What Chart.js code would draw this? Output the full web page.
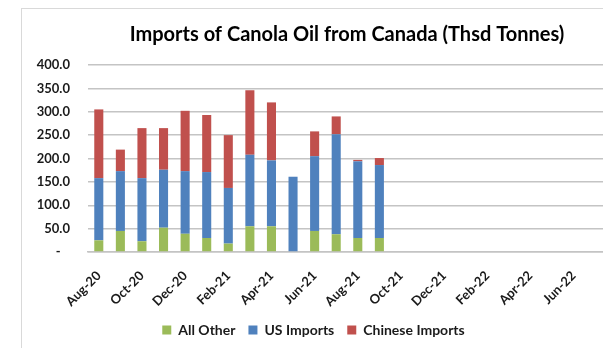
<!DOCTYPE html>
<html>
<head>
<meta charset="utf-8">
<script src="https://cdn.jsdelivr.net/npm/chart.js@4/dist/chart.umd.min.js"></script>
<style>
  html, body { margin: 0; padding: 0; background: #fff; overflow: hidden; }
  #frame { position: absolute; left: 21px; top: 8px; width: 700px; height: 400px; border: 1px solid #d9d9d9; }
  #wrap { position: absolute; left: 0; top: 0; width: 615px; height: 348px; }
</style>
</head>
<body>
<div id="frame"></div>
<div id="wrap"><canvas id="myChart" width="615" height="348"></canvas></div>
<script>
var months = ["Aug-20", "Sep-20", "Oct-20", "Nov-20", "Dec-20", "Jan-21", "Feb-21", "Mar-21",
              "Apr-21", "May-21", "Jun-21", "Jul-21", "Aug-21", "Sep-21", "Oct-21", "Nov-21",
              "Dec-21", "Jan-22", "Feb-22", "Mar-22", "Apr-22", "May-22", "Jun-22", "Jul-22"];
var allOther = [25, 45, 23, 52, 39, 30, 18, 55, 55, 0, 45, 38, 30, 30];
var usImports = [133, 128, 135, 124, 134, 141, 119, 153, 141, 161, 160, 214, 164, 156];
var chineseImports = [147, 46, 107, 89, 129, 122, 113, 138, 124, 0, 53, 38, 3, 15];
var yTicks = [0, 50, 100, 150, 200, 250, 300, 350, 400];

var txt = "#1a1a1a";
var ctx = document.getElementById("myChart");
var myChart = new Chart(ctx, {
    type: 'bar',
    data: {
        labels: months,
        datasets: [
            { label: "All Other", backgroundColor: "#9bbb59", data: allOther },
            { label: "US Imports", backgroundColor: "#4f81bd", data: usImports },
            { label: "Chinese Imports", backgroundColor: "#c0504d", data: chineseImports }
        ]
    },
    options: {
        responsive: false,
        animation: false,
        layout: { padding: { left: 21, right: 9, top: 0, bottom: 1 } },
        datasets: { bar: { categoryPercentage: 1, barPercentage: 0.42 } },
        plugins: {
            tooltip: { enabled: false },
            title: {
                display: true,
                fullSize: false,
                text: "Imports of Canola Oil from Canada (Thsd Tonnes)",
                color: "#000",
                font: { family: "Lato", size: 20, weight: "bold" },
                padding: { top: 23, bottom: 18 }
            },
            legend: {
                position: 'bottom',
                labels: {
                    boxWidth: 9,
                    boxHeight: 9,
                    padding: 13,
                    color: txt,
                    font: { family: "Lato", size: 14, weight: "bold" }
                }
            }
        },
        scales: {
            x: {
                stacked: true,
                afterFit: function (s) { s.height = 58; },
                grid: { display: false },
                border: { color: "#c4c4c4", width: 1.5 },
                ticks: {
                    autoSkip: false,
                    minRotation: 45,
                    maxRotation: 45,
                    padding: 8,
                    color: txt,
                    font: { family: "Lato", size: 13, weight: "bold" },
                    callback: function (v, i) { return i % 2 === 0 ? months[i] : ''; }
                }
            },
            y: {
                stacked: true,
                min: 0,
                max: 400,
                afterFit: function (s) { s.width = 67; },
                afterBuildTicks: function (s) { s.ticks = yTicks.map(function (v) { return { value: v }; }); },
                grid: { color: "#c4c4c4", lineWidth: 1.5, drawTicks: false },
                border: { display: false },
                ticks: {
                    padding: 18,
                    color: txt,
                    font: { family: "Lato", size: 13, weight: "bold" },
                    callback: function (v) { return v === 0 ? '-   ' : v.toFixed(1); }
                }
            }
        }
    }
});
</script>
</body>
</html>
